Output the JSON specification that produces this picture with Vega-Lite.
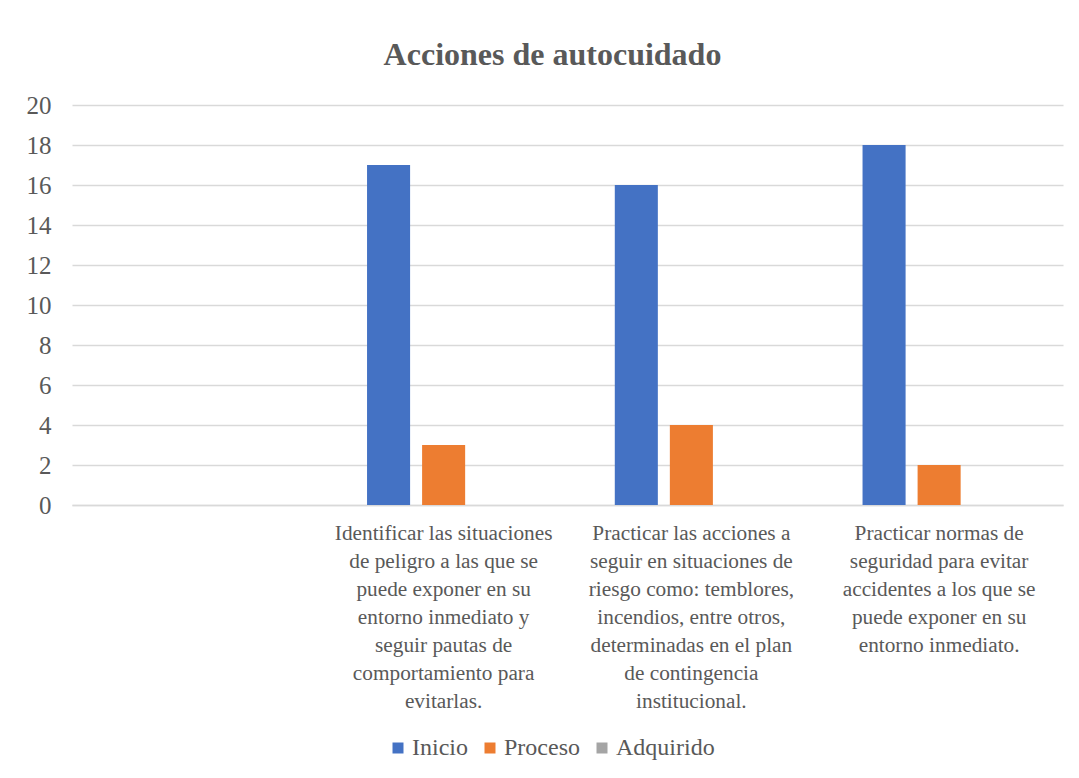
{
  "$schema": "https://vega.github.io/schema/vega-lite/v6.json",
  "width": 991,
  "height": 400,
  "autosize": "none",
  "padding": {"left": 72, "top": 105, "right": 16, "bottom": 273},
  "background": "white",
  "title": {
    "text": "Acciones de autocuidado",
    "font": "Liberation Serif",
    "fontSize": 32,
    "fontWeight": "bold",
    "color": "#595959",
    "offset": 21,
    "dx": -15
  },
  "data": {
    "values": [
      {"accion": "Identificar las situaciones|de peligro a las que se|puede exponer en su|entorno inmediato y|seguir pautas de|comportamiento para|evitarlas.", "nivel": "Inicio", "valor": 17},
      {"accion": "Identificar las situaciones|de peligro a las que se|puede exponer en su|entorno inmediato y|seguir pautas de|comportamiento para|evitarlas.", "nivel": "Proceso", "valor": 3},
      {"accion": "Identificar las situaciones|de peligro a las que se|puede exponer en su|entorno inmediato y|seguir pautas de|comportamiento para|evitarlas.", "nivel": "Adquirido", "valor": 0},
      {"accion": "Practicar las acciones a|seguir en situaciones de|riesgo como: temblores,|incendios, entre otros,|determinadas en el plan|de contingencia|institucional.", "nivel": "Inicio", "valor": 16},
      {"accion": "Practicar las acciones a|seguir en situaciones de|riesgo como: temblores,|incendios, entre otros,|determinadas en el plan|de contingencia|institucional.", "nivel": "Proceso", "valor": 4},
      {"accion": "Practicar las acciones a|seguir en situaciones de|riesgo como: temblores,|incendios, entre otros,|determinadas en el plan|de contingencia|institucional.", "nivel": "Adquirido", "valor": 0},
      {"accion": "Practicar normas de|seguridad para evitar|accidentes a los que se|puede exponer en su|entorno inmediato.", "nivel": "Inicio", "valor": 18},
      {"accion": "Practicar normas de|seguridad para evitar|accidentes a los que se|puede exponer en su|entorno inmediato.", "nivel": "Proceso", "valor": 2},
      {"accion": "Practicar normas de|seguridad para evitar|accidentes a los que se|puede exponer en su|entorno inmediato.", "nivel": "Adquirido", "valor": 0}
    ]
  },
  "mark": {"type": "bar"},
  "encoding": {
    "x": {
      "field": "accion",
      "type": "nominal",
      "sort": null,
      "scale": {
        "domain": [" ",
          "Identificar las situaciones|de peligro a las que se|puede exponer en su|entorno inmediato y|seguir pautas de|comportamiento para|evitarlas.",
          "Practicar las acciones a|seguir en situaciones de|riesgo como: temblores,|incendios, entre otros,|determinadas en el plan|de contingencia|institucional.",
          "Practicar normas de|seguridad para evitar|accidentes a los que se|puede exponer en su|entorno inmediato."],
        "paddingInner": 0,
        "paddingOuter": 0
      },
      "axis": {
        "title": null,
        "labelAngle": 0,
        "labelExpr": "split(datum.label, '|')",
        "labelFont": "Liberation Serif",
        "labelFontSize": 21.3,
        "labelLineHeight": 28.1,
        "labelColor": "#595959",
        "labelPadding": 17,
        "labelLimit": 0,
        "labelOverlap": false,
        "labelBaseline": "top",
        "ticks": false,
        "domainColor": "#D9D9D9",
        "domainWidth": 1.5,
        "grid": false
      }
    },
    "xOffset": {
      "field": "nivel",
      "type": "nominal",
      "sort": ["Inicio", "Proceso", "Adquirido"],
      "scale": {"paddingInner": 0.218, "paddingOuter": 0.859}
    },
    "y": {
      "field": "valor",
      "type": "quantitative",
      "scale": {"domain": [0, 20], "nice": false},
      "axis": {
        "title": null,
        "values": [0, 2, 4, 6, 8, 10, 12, 14, 16, 18, 20],
        "labelFont": "Liberation Serif",
        "labelFontSize": 25,
        "labelColor": "#595959",
        "labelPadding": 21,
        "ticks": false,
        "domain": false,
        "gridColor": "#D9D9D9",
        "gridWidth": 1.5
      }
    },
    "color": {
      "field": "nivel",
      "type": "nominal",
      "sort": ["Inicio", "Proceso", "Adquirido"],
      "scale": {"domain": ["Inicio", "Proceso", "Adquirido"], "range": ["#4472C4", "#ED7D31", "#A5A5A5"]},
      "legend": {
        "title": null,
        "orient": "none",
        "direction": "horizontal",
        "legendX": 314,
        "legendY": 631,
        "symbolType": "square",
        "symbolSize": 121,
        "symbolStrokeWidth": 0,
        "symbolOpacity": 1,
        "labelFont": "Liberation Serif",
        "labelFontSize": 24,
        "labelColor": "#595959",
        "labelOffset": 2,
        "columnPadding": 10
      }
    }
  },
  "config": {
    "view": {"stroke": null}
  }
}
